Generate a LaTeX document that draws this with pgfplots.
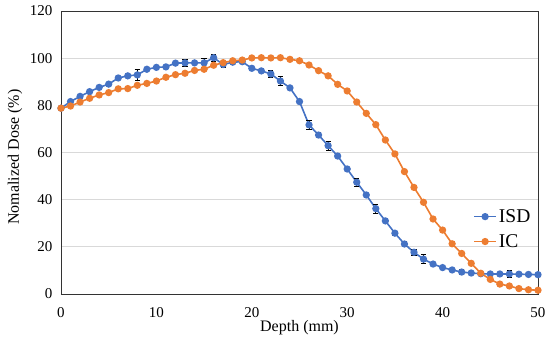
\documentclass[border=0pt]{standalone}
\usepackage{pgfplots}
\pgfplotsset{compat=1.18}
\usepackage{pgfplotstable}
\usepackage{fontspec}
\setmainfont{Liberation Serif}
\definecolor{isd}{HTML}{4472C4}
\definecolor{ic}{HTML}{ED7D31}
\definecolor{gridc}{HTML}{D9D9D9}
\pgfplotstableread{
x isd err ic
0 78.8 0.5 78.8
1 81.6 0.5 79.7
2 83.8 0.5 81.4
3 85.8 0.5 83.0
4 87.6 0.5 84.4
5 89.0 0.5 85.4
6 91.6 0.5 87.0
7 92.5 0.8 87.1
8 92.9 2.2 88.5
9 95.3 0.5 89.3
10 96.1 0.5 90.3
11 96.3 0.5 91.9
12 97.9 0.8 93.0
13 98.0 1.3 93.6
14 98.0 0.8 94.8
15 98.0 2.0 95.3
16 100.2 1.5 97.0
17 97.3 1.2 98.1
18 98.3 1.0 98.9
19 98.5 0.5 99.2
20 95.7 0.5 100.1
21 94.6 0.8 100.2
22 93.3 1.6 100.1
23 90.3 1.8 100.2
24 87.4 0.8 99.5
25 81.6 0.8 98.9
26 71.7 2.1 97.1
27 67.4 1.2 94.7
28 62.9 1.9 92.5
29 58.5 0.8 88.9
30 53.0 0.8 86.1
31 47.4 1.8 81.4
32 42.0 0.8 76.6
33 36.2 1.9 71.8
34 31.0 0.8 65.3
35 25.8 0.8 59.4
36 21.2 1.1 51.9
37 17.7 1.2 45.2
38 14.8 1.9 38.9
39 12.7 0.5 31.8
40 11.2 0.5 27.1
41 10.2 0.5 21.3
42 9.3 1.0 17.2
43 8.9 0.8 13.0
44 8.6 0.5 8.8
45 8.5 0.5 6.2
46 8.5 0.5 4.2
47 8.5 1.6 3.4
48 8.4 0.5 2.3
49 8.3 0.5 1.8
50 8.2 0.5 1.6
}\data
\begin{document}
\begin{tikzpicture}
\begin{axis}[
  at={(0,0)}, anchor=south west,
  scale only axis, width=477pt, height=283pt,
  xmin=0,xmax=50,ymin=0,ymax=120,
  xtick={0,10,...,50}, ytick={0,20,...,120},
  ymajorgrids, grid style={gridc, line width=0.8pt},
  major tick length=0pt,
  axis line style={black!80, line width=0.9pt},
  tick label style={font=\fontsize{15}{18}\selectfont},
  /pgf/number format/assume math mode=true,
  xticklabel style={yshift=-10pt},
  yticklabel style={xshift=-5pt},
  xlabel={Depth (mm)}, ylabel={Nomalized Dose (\%)},
  label style={font=\fontsize{16}{19}\selectfont},
  xlabel style={at={([yshift=-37.7pt]axis description cs:0.5,0)}, anchor=base},
  ylabel style={at={([xshift=-42pt]axis description cs:0,0.484)}, anchor=base},
  legend style={draw=none, fill=none, at={(axis cs:43.2,36.8)}, anchor=north west, font=\fontsize{19.5}{22}\selectfont, row sep=6.5pt, inner sep=0pt},
  legend cell align=left,
  legend image code/.code={\draw[mark repeat=2,mark phase=2,#1] plot coordinates {(0pt,0pt) (11pt,0pt) (22pt,0pt)};},
]
\addplot[isd, line width=1.6pt, mark=*, mark size=2.8pt, error bars/.cd, y dir=both, y explicit, error mark=|, error bar style={black, line width=0.8pt}, error mark options={black, line width=0.9pt, mark size=2.6pt}] table[x=x,y=isd,y error=err]{\data};
\addlegendentry{ISD}
\addplot[ic, line width=1.6pt, mark=*, mark size=2.8pt] table[x=x,y=ic]{\data};
\addlegendentry{IC}
\end{axis}
\pgfresetboundingbox
\path (-61pt,-47pt) rectangle (489pt,294pt);
\end{tikzpicture}
\end{document}
